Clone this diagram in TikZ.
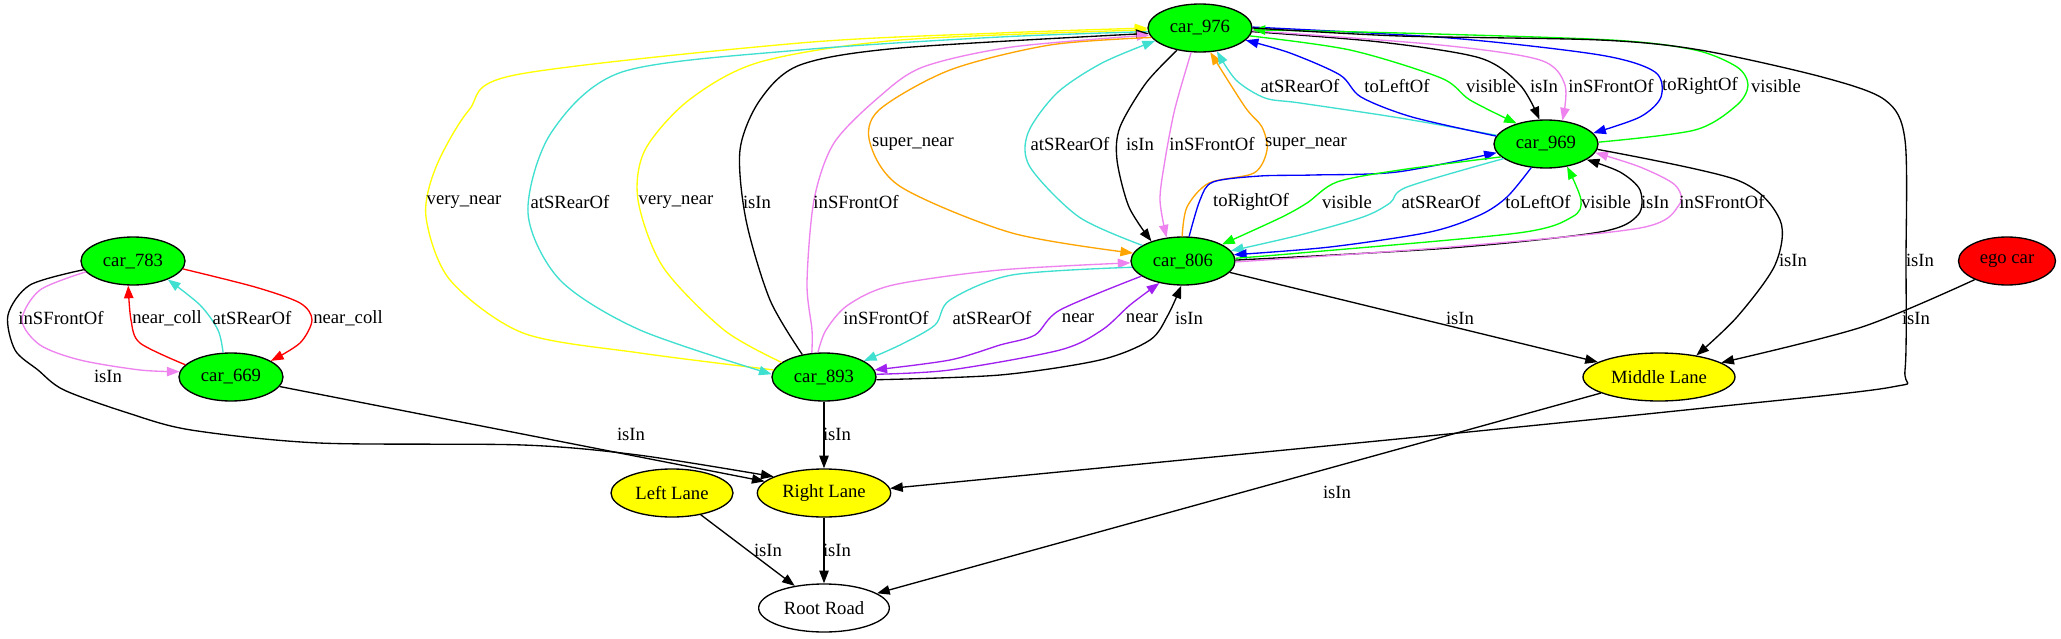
\documentclass[tikz,border=0pt]{standalone}
\usepackage{fontspec}
\setmainfont{Liberation Serif}
\usetikzlibrary{shapes.geometric,arrows.meta}
\definecolor{gvgreen}{HTML}{00FF00}
\definecolor{gvyellow}{HTML}{FFFF00}
\definecolor{gvred}{HTML}{FF0000}
\definecolor{gvturq}{HTML}{40E0D0}
\definecolor{gvviolet}{HTML}{EE82EE}
\definecolor{gvorange}{HTML}{FFA500}
\definecolor{gvpurple}{HTML}{A020F0}
\definecolor{gvblue}{HTML}{0000FF}
\begin{document}
\begin{tikzpicture}[x=0.75pt,y=-0.75pt,font=\fontsize{14pt}{16pt}\selectfont,
  car/.style={ellipse,draw,line width=1pt,fill=gvgreen,minimum width=78pt,minimum height=36pt,inner sep=0pt},
  lane/.style={ellipse,draw,line width=1pt,fill=gvyellow,minimum height=36pt,inner sep=0pt},
  edg/.style={line width=1pt,-{Triangle[length=9.5pt,width=7pt]}},
  lbl/.style={inner sep=0pt}]
\fill[white] (0,0) rectangle (2061,639);
\path[use as bounding box] (0,0) rectangle (2061,639);

% nodes
\node[car] (c976) at (1200,28) {car\_976};
\node[car] (c969) at (1546,144) {car\_969};
\node[car] (c806) at (1183,261) {car\_806};
\node[car] (c783) at (133,261) {car\_783};
\node[car] (c669) at (231,377) {car\_669};
\node[car] (c893) at (824,377) {car\_893};
\node[lane,minimum width=114pt] (mid) at (1659,377) {Middle Lane};
\node[ellipse,draw,line width=1pt,fill=gvred,minimum width=72.75pt,minimum height=36pt,inner sep=0pt] (ego) at (2007,261) {ego car};
\node[lane,minimum width=100pt] (right) at (824,493) {Right Lane};
\node[lane,minimum width=91.5pt] (left) at (672,493) {Left Lane};
\node[ellipse,draw,line width=1pt,fill=white,minimum width=98pt,minimum height=36pt,inner sep=0pt] (root) at (824,608) {Root Road};

% car_893 <-> car_976
\draw[edg,gvyellow] plot[smooth] coordinates {(c893.172) (640,353) (523,333) (450,280) (426,217) (436,167) (469,110) (515,75) (800,43) (1000,33) (c976.180)};
\draw[edg,gvyellow] plot[smooth] coordinates {(c893.161) (724,330) (663,267) (638,200) (645,150) (689,100) (760,62) (900,40) (c976.182)};
\draw[edg,gvturq] plot[smooth] coordinates {(c976.184) (1000,37) (800,50) (622,72) (551,133) (528,213) (560,280) (640,330) (c893.177)};
\draw[edg,black] plot[smooth] coordinates {(c893.134) (770,300) (746,220) (740,150) (760,100) (800,65) (900,48) (c976.186)};
\draw[edg,gvviolet] plot[smooth] coordinates {(c893.117) (812,330) (807,283) (814,200) (834,143) (879,97) (923,67) (1012,47) (c976.188)};

% car_976 <-> car_806
\draw[edg,gvorange] plot[smooth] coordinates {(c976.191) (1050,45) (950,70) (879,110) (870,143) (901,187) (1012,233) (c806.171)};
\draw[edg,gvturq] plot[smooth] coordinates {(c806.159) (1079,217) (1030,167) (1028,133) (1057,93) (1102,63) (c976.196)};
\draw[edg,black] plot[smooth] coordinates {(c976.224) (1146,83) (1120,127) (1117,160) (1129,207) (c806.148)};
\draw[edg,gvviolet] plot[smooth] coordinates {(c976.250) (1180,90) (1173,117) (1165,160) (1160,200) (c806.125)};
\draw[edg,gvorange] plot[smooth] coordinates {(c806.92) (1187,207) (1209,183) (1254,173) (1267,150) (1262,127) (1245,107) (c976.293)};

% car_969 <-> car_976
\draw[edg,gvturq] plot[smooth] coordinates {(c969.170) (1400,118) (1300,103) (1265,98) (1236,80) (c976.306)};
\draw[edg,gvblue] plot[smooth] coordinates {(c969.171) (1412,117) (1361,97) (1340,75) (1290,53) (c976.345)};
\draw[edg,gvgreen] plot[smooth] coordinates {(c976.351) (1350,50) (1441,78) (1470,100) (c969.145)};
\draw[edg,black] plot[smooth] coordinates {(c976.356) (1380,42) (1480,58) (1520,85) (c969.105)};
\draw[edg,gvviolet] plot[smooth] coordinates {(c976.357) (1440,45) (1540,60) (1565,85) (c969.55)};
\draw[edg,gvblue] plot[smooth] coordinates {(c976.1) (1450,38) (1600,55) (1655,72) (1661,97) (1640,117) (c969.13)};
\draw[edg,gvgreen] plot[smooth] coordinates {(c969.2) (1695,130) (1737,105) (1748,85) (1737,67) (1695,50) (1611,40) (1400,33) (c976.358)};

% car_976 -> Right Lane
\draw[edg,black] plot[smooth] coordinates {(c976.0) (1400,36) (1600,40) (1700,50) (1822,77) (1885,100) (1905,140) (1906,260) (1905,370) (1892,387) (1714,407) (1418,437) (right.4)};

% car_806 <-> car_969
\draw[edg,gvblue] plot[smooth] coordinates {(c806.76) (1200,200) (1213,182) (1260,176) (1313,175) (1397,172) (c969.190)};
\draw[edg,gvgreen] plot[smooth] coordinates {(c969.196) (1400,170) (1337,182) (1307,203) (1280,218) (c806.23)};
\draw[edg,gvturq] plot[smooth] coordinates {(c969.199) (1407,187) (1390,203) (1363,217) (1300,235) (c806.12)};
\draw[edg,gvblue] plot[smooth] coordinates {(c969.238) (1507,197) (1480,215) (1430,232) (1330,247) (c806.7)};
\draw[edg,gvgreen] plot[smooth] coordinates {(c806.3) (1300,253) (1518,233) (1572,217) (1581,200) (c969.313)};
\draw[edg,black] plot[smooth] coordinates {(c806.1) (1450,248) (1600,232) (1638,215) (1640,190) (1620,172) (c969.339)};
\draw[edg,gvviolet] plot[smooth] coordinates {(c806.359) (1450,247) (1640,228) (1679,205) (1675,185) (1640,167) (c969.350)};

% car_806 <-> car_893
\draw[edg,gvviolet] plot[smooth] coordinates {(c893.104) (826,330) (848,305) (893,285) (1000,270) (c806.182)};
\draw[edg,gvturq] plot[smooth] coordinates {(c806.187) (1012,275) (950,300) (935,325) (900,345) (c893.22)};
\draw[edg,gvpurple] plot[smooth] coordinates {(c806.200) (1060,310) (1035,335) (1000,345) (950,360) (c893.8)};
\draw[edg,gvpurple] plot[smooth] coordinates {(c893.3) (950,370) (1060,350) (1102,330) (1130,305) (c806.223)};
\draw[edg,black] plot[smooth] coordinates {(c893.357) (1000,375) (1100,360) (1150,340) (1168,315) (c806.266)};

% lanes
\draw[edg,black] (c806) -- (mid);
\draw[edg,black] plot[smooth] coordinates {(c969.354) (1737,180) (1780,220) (1775,265) (1737,317) (mid.30)};
\draw[edg,black] plot[smooth] coordinates {(ego.210) (1862,327) (mid.13)};
\draw[edg,black] (mid) -- (root);
\draw[edg,black] (c893) -- (right);
\draw[edg,black] (right) -- (root);
\draw[edg,black] (left) -- (root);
\draw[edg,black] (c669) -- (right);
\draw[edg,black] plot[smooth] coordinates {(c783.190) (30,285) (8,315) (15,350) (38,370) (64,390) (128,413) (191,430) (319,443) (523,445) (638,455) (right.162)};

% car_783 <-> car_669
\draw[edg,gvviolet] plot[smooth] coordinates {(c783.193) (40,290) (22,320) (40,345) (80,360) (140,370) (c669.174)};
\draw[edg,gvred] plot[smooth] coordinates {(c669.165) (140,343) (131,320) (c783.259)};
\draw[edg,gvturq] plot[smooth] coordinates {(c669.108) (218,330) (200,305) (c783.332)};
\draw[edg,gvred] plot[smooth] coordinates {(c783.351) (255,287) (300,303) (312,320) (300,343) (c669.22)};

% labels
\node[lbl] (l01) at (464,202) {very\_near};
\node[lbl] (l02) at (570,202) {atSRearOf};
\node[lbl] (l03) at (676,202) {very\_near};
\node[lbl] (l04) at (757,202) {isIn};
\node[lbl] (l05) at (856,202) {inSFrontOf};
\node[lbl] (l06) at (913,144) {super\_near};
\node[lbl] (l07) at (1070,144) {atSRearOf};
\node[lbl] (l08) at (1140,144) {isIn};
\node[lbl] (l09) at (1212,144) {inSFrontOf};
\node[lbl] (l10) at (1306,144) {super\_near};
\node[lbl] (l11) at (1300,86) {atSRearOf};
\node[lbl] (l12) at (1397,86) {toLeftOf};
\node[lbl] (l13) at (1491,86) {visible};
\node[lbl] (l14) at (1544,86) {isIn};
\node[lbl] (l15) at (1611,86) {inSFrontOf};
\node[lbl] (l16) at (1700,86) {toRightOf};
\node[lbl] (l17) at (1776,86) {visible};
\node[lbl] (l18) at (1251,202) {toRightOf};
\node[lbl] (l19) at (1347,202) {visible};
\node[lbl] (l20) at (1441,202) {atSRearOf};
\node[lbl] (l21) at (1538,202) {toLeftOf};
\node[lbl] (l22) at (1606,202) {visible};
\node[lbl] (l23) at (1655,202) {isIn};
\node[lbl] (l24) at (1722,202) {inSFrontOf};
\node[lbl] (l25) at (1793,260) {isIn};
\node[lbl] (l26) at (1920,260) {isIn};
\node[lbl] (l27) at (886,318) {inSFrontOf};
\node[lbl] (l28) at (992,318) {atSRearOf};
\node[lbl] (l29) at (1078,318) {near};
\node[lbl] (l30) at (1142,318) {near};
\node[lbl] (l31) at (1189,318) {isIn};
\node[lbl] (l32) at (1460,318) {isIn};
\node[lbl] (l33) at (1916,318) {isIn};
\node[lbl] (l34) at (1337,492) {isIn};
\node[lbl] (l35) at (837,434) {isIn};
\node[lbl] (l36) at (837,550) {isIn};
\node[lbl] (l37) at (768,550) {isIn};
\node[lbl] (l38) at (631,434) {isIn};
\node[lbl] (l39) at (108,376) {isIn};
\node[lbl] (l40) at (61,318) {inSFrontOf};
\node[lbl] (l41) at (167,318) {near\_coll};
\node[lbl] (l42) at (252,318) {atSRearOf};
\node[lbl] (l43) at (348,318) {near\_coll};
\end{tikzpicture}
\end{document}
